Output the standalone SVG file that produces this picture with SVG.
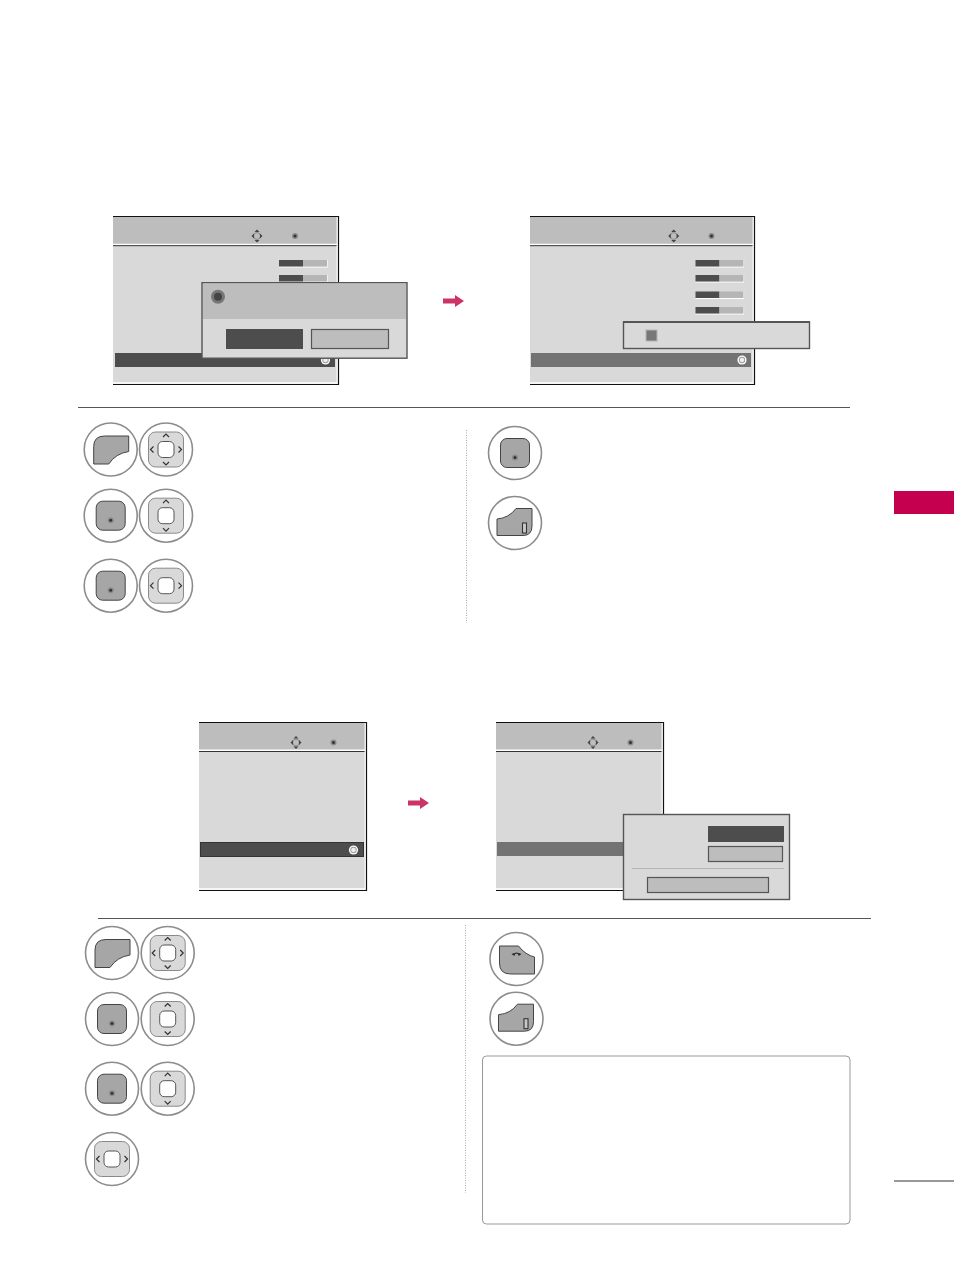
<svg xmlns="http://www.w3.org/2000/svg" width="954" height="1271" viewBox="0 0 954 1271">
<style>
.ring{fill:#fff;stroke:#8c8c8c;stroke-width:1.6}
.key{fill:#a6a6a6;stroke:#444;stroke-width:1}
.pad{fill:#d9d9d9;stroke:#8a8a8a;stroke-width:1}
.hole{fill:#fff;stroke:#555;stroke-width:1}
.chev{fill:none;stroke:#333;stroke-width:1.2}
.head{fill:#bdbdbd}
.body{fill:#d9d9d9}
.edge{fill:none;stroke:#111;stroke-width:1.2}
.wl{fill:none;stroke:#fff;stroke-width:1.4}
.sep{stroke:#333;stroke-width:1}
.pop{fill:#d9d9d9;stroke:#555;stroke-width:1.4}
.btn{fill:#bdbdbd;stroke:#555;stroke-width:1.2}
.dark{fill:#4d4d4d}
.mid{fill:#737373}
.trk{fill:#b5b5b5}
.rule{stroke:#555;stroke-width:1}
.dots{stroke:#aaa;stroke-width:1;stroke-dasharray:1 1.5}
.red{fill:#cc3366}
</style>
<defs>
<g id="nav"><circle r="3.4" fill="none" stroke="#888" stroke-width="1"/><path d="M0-6.500l2.500 2.500h-5zM0 6.500l2.500-2.500h-5zM-5.500 0l2.500-2.500v5zM5.500 0l-2.500-2.500v5z" fill="#444"/></g>
<g id="ok"><circle r="3" fill="#8a8a8a"/><circle r="1.500" fill="#333"/></g>
<g id="radio"><circle r="4.600" fill="#fff"/><circle r="3.200" fill="#999"/><circle r="2.300" fill="#eee"/></g>
<g id="bar"><path d="M0 7H48V0" fill="none" stroke="#fff" stroke-width="1.2"/><rect width="24" height="6.500" class="dark"/><rect x="24" width="24" height="6.500" class="trk"/></g>
<g id="b-menu"><circle r="26.500" class="ring"/><path d="M-17 14.500V-3Q-17-13.500-6-13.500H18V2Q5 4-2 14.500Z" class="key"/></g>
<g id="b-exit"><circle r="26.500" class="ring"/><path d="M-18 12.500V-4Q-6-5 1-14.500H17V3Q17 12.500 8 12.500Z" class="key"/><rect x="7.500" y="0" width="4" height="10" fill="#c8c8c8" stroke="#333" stroke-width="1.100"/></g>
<g id="b-back"><circle r="26.500" class="ring"/><path d="M-17-13H2Q9-4 18-2V15H-6Q-17 15-17 4Z" class="key"/><path d="M-3-4Q0-8 3-4" fill="none" stroke="#222" stroke-width="1.200"/><path d="M-5-5l3-1v3zM5-5l-3-1v3z" fill="#222"/></g>
<g id="b-ok"><circle r="26.500" class="ring"/><rect x="-14.500" y="-14.500" width="29" height="29" rx="6.500" class="key"/><use href="#ok" y="4.500"/></g>
<g id="pad-base"><circle r="26.500" class="ring"/><rect x="-17.500" y="-17.500" width="35" height="35" rx="7" class="pad"/><rect x="-8" y="-8" width="16" height="16" rx="4.500" class="hole"/></g>
<path id="c-ud" d="M-3-12.500L0-15.500L3-12.500M-3 12.500L0 15.500L3 12.500" class="chev"/>
<path id="c-lr" d="M-12.500-3L-15.500 0L-12.500 3M12.500-3L15.500 0L12.500 3" class="chev"/>
<g id="b-all"><use href="#pad-base"/><use href="#c-ud"/><use href="#c-lr"/></g>
<g id="b-ud"><use href="#pad-base"/><use href="#c-ud"/></g>
<g id="b-lr"><use href="#pad-base"/><use href="#c-lr"/></g>
<path id="arrow" d="M0-2.500H12V-6L21 0L12 6V2.500H0Z" class="red"/>
</defs>
<rect width="954" height="1271" fill="#fff"/>
<rect id="side-tab" x="894" y="491" width="60" height="23" fill="#c4004f"/>
<line id="page-rule" x1="894" y1="1181" x2="954" y2="1181" stroke="#333" stroke-width="1"/>

<g id="connectors">
<use href="#arrow" x="443" y="301"/>
<use href="#arrow" x="408" y="803"/>
</g>

<g id="menu-a1">
<rect x="113" y="216" width="225" height="168" class="body"/>
<rect x="113" y="217" width="224" height="27" class="head"/>
<path d="M113 244.500H337" class="wl"/><path d="M113 245.700H337" class="sep"/>
<path d="M337.300 217V383H113" class="wl"/>
<path d="M113 216.500H338.500V384.500H113" class="edge"/>
<use href="#nav" x="257" y="236"/><use href="#ok" x="295" y="236"/>
<use href="#bar" x="279" y="260"/><use href="#bar" x="279" y="275"/>
<rect x="115" y="353" width="220" height="14" class="dark"/>
<use href="#radio" x="325.500" y="360"/>
<rect x="202" y="282.700" width="205" height="75.500" class="pop"/>
<rect x="203" y="283.500" width="203" height="35.500" class="head"/>
<circle cx="218" cy="296.700" r="7" fill="#777"/><circle cx="218" cy="296.700" r="4" fill="#444"/>
<rect x="226" y="329" width="77" height="20" class="dark"/>
<rect x="311.500" y="329.500" width="77" height="19" class="btn"/>
</g>

<g id="menu-a2">
<rect x="530" y="216" width="224" height="168" class="body"/>
<rect x="530" y="217" width="223" height="27" class="head"/>
<path d="M530 244.500H753" class="wl"/><path d="M530 245.700H753" class="sep"/>
<path d="M753.300 217V383H530" class="wl"/>
<path d="M530 216.500H754.500V384.500H530" class="edge"/>
<use href="#nav" x="673.700" y="236"/><use href="#ok" x="711.500" y="236"/>
<use href="#bar" x="695.500" y="260"/><use href="#bar" x="695.500" y="275"/><use href="#bar" x="695.500" y="291.500"/><use href="#bar" x="695.500" y="307"/>
<rect x="531" y="353" width="220" height="14" class="mid"/>
<use href="#radio" x="742" y="360"/>
<rect x="623.500" y="322" width="186" height="26.500" class="pop"/>
<path d="M623 322H810" stroke="#555" stroke-width="2"/>
<rect x="646" y="330" width="11" height="11" fill="#777" stroke="#b5b5b5" stroke-width="1"/>
</g>

<line id="rule-a" x1="78" y1="407.500" x2="850" y2="407.500" class="rule"/>
<line id="dots-a" x1="466.500" y1="430" x2="466.500" y2="623" class="dots"/>

<g id="steps-a">
<use id="a1" href="#b-menu" x="110.700" y="449.500"/>
<use id="a2" href="#b-all" x="166" y="449.500"/>
<use id="a3" href="#b-ok" x="110.700" y="515.700"/>
<use id="a4" href="#b-ud" x="166" y="515.700"/>
<use id="a5" href="#b-ok" x="110.700" y="585.700"/>
<use id="a6" href="#b-lr" x="166" y="585.700"/>
<use id="a7" href="#b-ok" x="515" y="453"/>
<use id="a8" href="#b-exit" x="515" y="523"/>
</g>

<g id="menu-b1">
<rect x="199" y="722" width="167" height="168" class="body"/>
<rect x="199" y="723" width="166" height="27" class="head"/>
<path d="M199 750.300H365" class="wl"/><path d="M199 751.500H365" class="sep"/>
<path d="M365.300 723V889H199" class="wl"/>
<path d="M199 722.500H366.500V890.500H199" class="edge"/>
<use href="#nav" x="296" y="742.500"/><use href="#ok" x="333.500" y="742.500"/>
<rect x="200.500" y="842.500" width="163" height="14" fill="#4d4d4d" stroke="#333"/>
<use href="#radio" x="353.500" y="850"/>
</g>

<g id="menu-b2">
<rect x="496" y="722" width="167" height="168" class="body"/>
<rect x="496" y="723" width="166" height="27" class="head"/>
<path d="M496 750.300H662" class="wl"/><path d="M496 751.500H662" class="sep"/>
<path d="M662.300 723V889H496" class="wl"/>
<path d="M496 722.500H663.500V890.500H496" class="edge"/>
<use href="#nav" x="593" y="742.500"/><use href="#ok" x="630.500" y="742.500"/>
<rect x="497" y="842" width="128" height="14" class="mid"/>
<rect x="623.500" y="814.500" width="166" height="85" class="pop"/>
<rect x="708" y="826" width="76" height="16" class="dark"/>
<rect x="708.500" y="846.500" width="74" height="15" class="btn"/>
<line x1="632" y1="868.500" x2="784" y2="868.500" stroke="#b5b5b5" stroke-width="1"/>
<rect x="647.500" y="877.500" width="121" height="15" class="btn"/>
</g>

<line id="rule-b" x1="98" y1="918.500" x2="871" y2="918.500" class="rule"/>
<line id="dots-b" x1="465.500" y1="925" x2="465.500" y2="1193" class="dots"/>

<g id="steps-b">
<use id="b1" href="#b-menu" x="112" y="953"/>
<use id="b2" href="#b-all" x="167.700" y="953"/>
<use id="b3" href="#b-ok" x="112" y="1019"/>
<use id="b4" href="#b-ud" x="167.700" y="1019"/>
<use id="b5" href="#b-ok" x="112" y="1088.700"/>
<use id="b6" href="#b-ud" x="167.700" y="1088.700"/>
<use id="b7" href="#b-lr" x="112" y="1159"/>
<use id="b8" href="#b-back" x="516.500" y="959"/>
<use id="b9" href="#b-exit" x="516.500" y="1018.700"/>
</g>

<rect id="note-box" x="482.500" y="1056" width="367.500" height="168" rx="4" fill="#fff" stroke="#999" stroke-width="1"/>
</svg>
